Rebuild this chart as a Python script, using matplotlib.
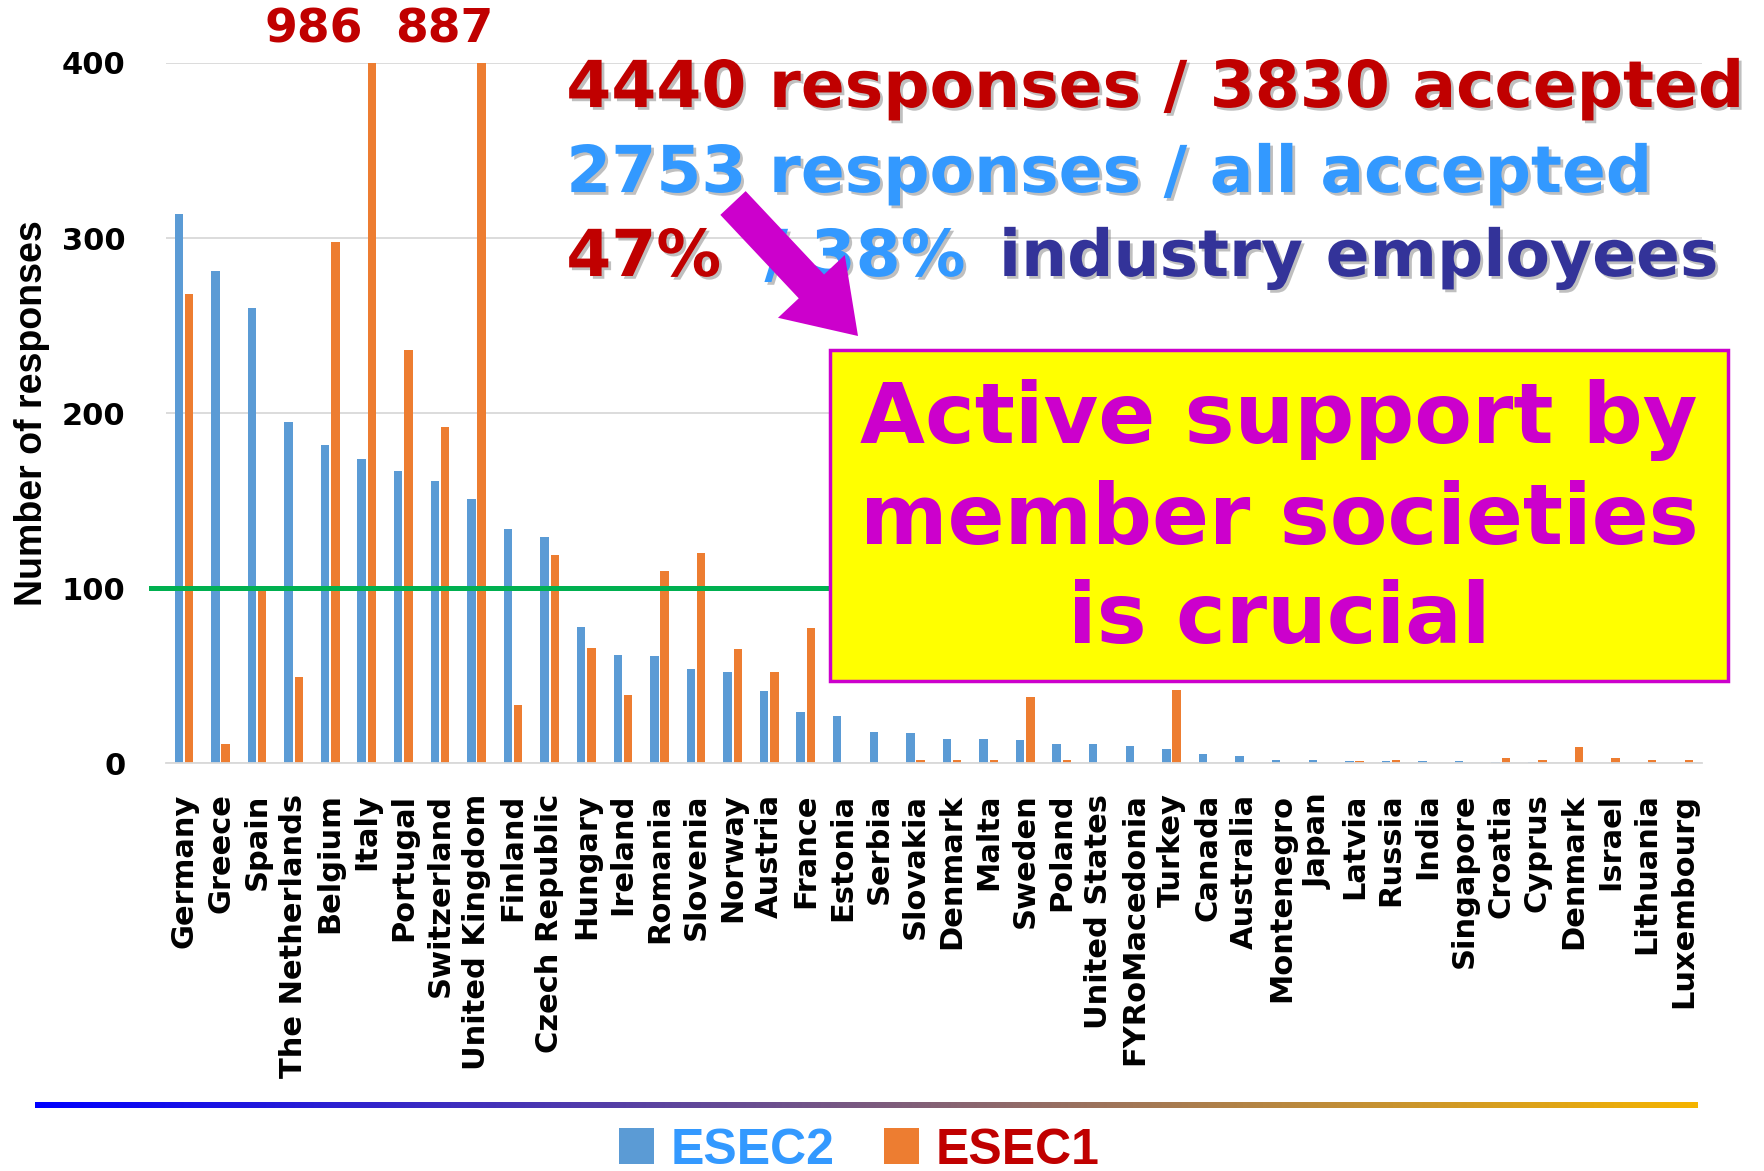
import numpy as np
import matplotlib.pyplot as plt
import matplotlib.patheffects as pe
from matplotlib.patches import Rectangle, FancyArrowPatch

plt.rcParams['font.family'] = ['DejaVu Sans']

countries = ["Germany", "Greece", "Spain", "The Netherlands", "Belgium", "Italy",
             "Portugal", "Switzerland", "United Kingdom", "Finland", "Czech Republic",
             "Hungary", "Ireland", "Romania", "Slovenia", "Norway", "Austria", "France",
             "Estonia", "Serbia", "Slovakia", "Denmark", "Malta", "Sweden", "Poland",
             "United States", "FYRoMacedonia", "Turkey", "Canada", "Australia",
             "Montenegro", "Japan", "Latvia", "Russia", "India", "Singapore", "Croatia",
             "Cyprus", "Denmark", "Israel", "Lithuania", "Luxembourg"]

esec2 = [314, 281, 260, 195, 182, 174, 167, 161, 151, 134, 129,
         78, 62, 61, 54, 52, 41, 29,
         27, 18, 17, 14, 14, 13, 11,
         11, 10, 8, 5, 4,
         2, 2, 1, 1, 1, 1, 0.5,
         0.5, 0, 0, 0, 0]

esec1 = [268, 11, 99, 49, 298, 986, 236, 192, 887, 33, 119,
         66, 39, 110, 120, 65, 52, 77,
         0, 0, 2, 2, 2, 38, 2,
         0, 0, 42, 0, 0,
         0, 0, 1, 2, 0, 0, 3,
         2, 9, 3, 2, 2]

yticks = [0, 100, 200, 300, 400]
threshold = 100

red = '#c00000'
lblue = '#3399ff'
navy = '#333399'
magenta = '#cc00cc'

fig = plt.figure(figsize=(17.64, 11.71), dpi=100)
ax = fig.add_axes([0.0939, 0.3484, 0.8709, 0.5978])

x = np.arange(len(countries))
b2 = ax.bar(x - 0.14, esec2, 0.23, color='#5b9bd5', zorder=2)
b1 = ax.bar(x + 0.14, esec1, 0.23, color='#ed7d31', zorder=2)

ax.set_xlim(-0.5, len(countries) - 0.5)
ax.set_ylim(0, 400)
ax.set_yticks(yticks)
ax.yaxis.grid(True, color='#d9d9d9', lw=1.3)
ax.set_axisbelow(True)
for s in ['left', 'right', 'top']:
    ax.spines[s].set_visible(False)
ax.spines['bottom'].set_color('#d9d9d9')
ax.spines['bottom'].set_linewidth(1.3)

ax.set_xticks(x)
ax.set_xticklabels(countries, rotation=90, fontsize=22, fontweight='bold',
                   va='top', ha='center')
ax.tick_params(axis='x', length=0, pad=22)
ax.tick_params(axis='y', length=0, pad=29, labelsize=22)
for t in ax.get_yticklabels():
    t.set_fontweight('bold')

ax.set_ylabel('Number of responses', fontsize=27, fontweight='bold',
              family=['Liberation Sans', 'DejaVu Sans'])
ax.yaxis.set_label_coords(-0.075, 0.5)

# 100-responses line
ax.plot([-0.0095, 1], [threshold, threshold], transform=ax.get_yaxis_transform(),
        color='#00b050', lw=3.6, clip_on=False, zorder=3)

# values of the two clipped bars
fig.text(0.178, 0.964, '986', ha='center', va='baseline', fontsize=34,
         color=red, fontweight='bold')
fig.text(0.2517, 0.964, '887', ha='center', va='baseline', fontsize=34,
         color=red, fontweight='bold')

shadow = [pe.withSimplePatchShadow(offset=(2, -2), shadow_rgbFace='#808080', alpha=0.5)]
big = dict(fontsize=46.6, fontweight='bold', path_effects=shadow)
fig.text(0.321, 0.9086, '4440 responses / 3830 accepted', color=red, va='baseline', **big)
fig.text(0.321, 0.836, '2753 responses / all accepted', color=lblue, va='baseline', **big)
t1 = fig.text(0.321, 0.7643, '47%', color=red, va='baseline', **big)
t2 = ax.annotate('/ 38%', xy=(1, 0), xycoords=t1, xytext=(31, 0),
                 textcoords='offset points', va='bottom', ha='left', color=lblue, **big)
ax.annotate('industry employees', xy=(1, 0), xycoords=t2, xytext=(24, 0),
            textcoords='offset points', va='bottom', ha='left', color=navy, **big)

# call-out box
box = Rectangle((0.4705, 0.4185), 0.5091, 0.2826, transform=fig.transFigure,
                facecolor='#ffff00', edgecolor=magenta, lw=2.5, zorder=5)
fig.add_artist(box)
fig.text(0.725, 0.556, 'Active support by\nmember societies\nis crucial', ha='center',
         va='center', fontsize=60.5, color=magenta, fontweight='bold', linespacing=1.29,
         zorder=6)

arrow = FancyArrowPatch((733 / 1764, 1 - 203 / 1171), (858 / 1764, 1 - 336 / 1171),
                        transform=fig.transFigure,
                        arrowstyle='simple,head_length=49,head_width=66,tail_width=25',
                        mutation_scale=1, shrinkA=0, shrinkB=0, color=magenta, lw=0,
                        zorder=6)
fig.add_artist(arrow)

# gradient rule above the legend
gax = fig.add_axes([35 / 1764, (1171 - 1108) / 1171, 1662 / 1764, 6 / 1171])
c0 = np.array([0, 0, 255]) / 255
c1 = np.array([245, 180, 0]) / 255
f = np.linspace(0, 1, 512)[:, None]
grad = (1 - f) * c0 + f * c1
gax.imshow(grad[None, :, :], aspect='auto', extent=(0, 1, 0, 1))
gax.axis('off')

leg = fig.legend([b2, b1], ['ESEC2', 'ESEC1'], loc='center', bbox_to_anchor=(0.487, 0.0175),
                 ncol=2, frameon=False,
                 prop={'family': ['DejaVu Sans Condensed', 'Liberation Sans', 'DejaVu Sans'],
                       'weight': 'bold', 'size': 36},
                 handlelength=0.7, handleheight=0.75, handletextpad=0.33,
                 columnspacing=1.0, borderpad=0.05)
leg.get_texts()[0].set_color(lblue)
leg.get_texts()[1].set_color(red)

fig.savefig('out.png', dpi=100)
